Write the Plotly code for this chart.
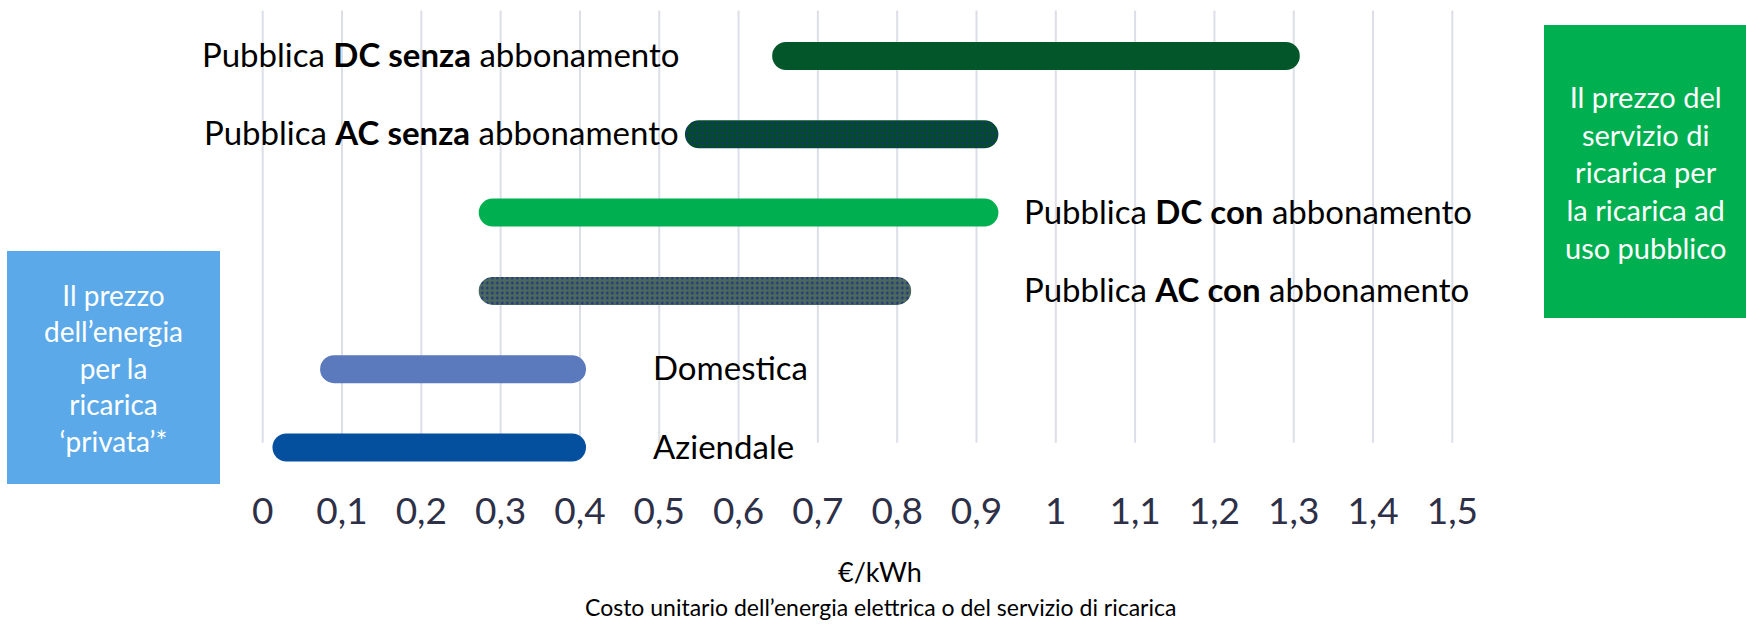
import plotly.graph_objects as go

# ---------------- data ----------------
categories = [
    "Aziendale",
    "Domestica",
    "Pubblica AC con abbonamento",
    "Pubblica DC con abbonamento",
    "Pubblica AC senza abbonamento",
    "Pubblica DC senza abbonamento",
]
label_texts = [
    "Aziendale",
    "Domestica",
    "Pubblica <b>AC con</b> abbonamento",
    "Pubblica <b>DC con</b> abbonamento",
    "Pubblica <b>AC senza</b> abbonamento",
    "Pubblica <b>DC senza</b> abbonamento",
]
price_min = [0.03, 0.09, 0.29, 0.29, 0.55, 0.66]
price_max = [0.39, 0.39, 0.80, 0.91, 0.91, 1.29]

tick_values = [0, 0.1, 0.2, 0.3, 0.4, 0.5, 0.6, 0.7, 0.8, 0.9, 1.0, 1.1, 1.2, 1.3, 1.4, 1.5]
tick_labels = ["0", "0,1", "0,2", "0,3", "0,4", "0,5", "0,6", "0,7", "0,8", "0,9",
               "1", "1,1", "1,2", "1,3", "1,4", "1,5"]

x_title = "€/kWh"
x_subtitle = "Costo unitario dell’energia elettrica o del servizio di ricarica"
box_private = "Il prezzo<br>dell’energia<br>per la<br>ricarica<br>‘privata’*"
box_public = "Il prezzo del<br>servizio di<br>ricarica per<br>la ricarica ad<br>uso pubblico"

# ---------------- styles / layout ----------------
W, H = 1746, 627
bar_colors = ["#04509F", "#5B7ABD", "#4B6A5C", "#00B050", "#014D27", "#02562A"]
patterned = [False, False, True, False, True, False]
dot_color = "#1C2A8C"
label_side = ["bottom", "bottom", "right", "right", "left", "left"]
label_anchor_x = {"left": 0.527, "right": 0.957, "bottom": 0.489}

X_RANGE = [-0.01, 1.51]
PX_PER_UNIT = 793.1
X0_PX = 262.7                      # pixel of value 0
x_left_px = X0_PX + X_RANGE[0] * PX_PER_UNIT
x_right_px = X0_PX + X_RANGE[1] * PX_PER_UNIT
grid_top_px, grid_bottom_px = 10.5, 442.7
plot_top_px, plot_bottom_px = 10.5, 466.0
row0_px, row_step_px = 447.5, 78.3
BAR_PX = 28
cap = (BAR_PX / 2) / PX_PER_UNIT

y_range = [(row0_px - plot_bottom_px) / row_step_px, (row0_px - plot_top_px) / row_step_px]

FONT = "Lato"

fig = go.Figure()

for cat, lo, hi, col, pat in zip(categories, price_min, price_max, bar_colors, patterned):
    marker = dict(color=col, cornerradius=BAR_PX // 2, line=dict(width=0))
    if pat:
        marker["pattern"] = dict(shape=".", size=5, solidity=0.18,
                                 fgcolor=dot_color, bgcolor=col, fgopacity=1)
    fig.add_trace(go.Bar(
        y=[cat], x=[(hi + cap) - (lo - cap)], base=[lo - cap], orientation="h",
        width=BAR_PX / row_step_px, marker=marker,
        cliponaxis=False, hoverinfo="skip", showlegend=False,
    ))

shapes = []
# gridlines (stop above the bottom row, as in the reference)
for tv in tick_values:
    shapes.append(dict(type="line", xref="x", yref="paper", x0=tv, x1=tv,
                       y0=1 - grid_bottom_px / H, y1=1 - grid_top_px / H,
                       line=dict(color="#DCDEE8", width=2), layer="below"))

annotations = []
for cat, txt, side in zip(categories, label_texts, label_side):
    annotations.append(dict(
        x=label_anchor_x[side], y=cat, xref="x", yref="y", text=txt,
        showarrow=False, xanchor="right" if side == "left" else "left", yanchor="middle",
        yshift=2,
        font=dict(family=FONT, size=33, color="#000000"),
    ))

annotations.append(dict(x=880 / W, y=1 - 571 / H, xref="paper", yref="paper", text=x_title,
                        showarrow=False, xanchor="center", yanchor="middle",
                        font=dict(family=FONT, size=27, color="#000000")))
annotations.append(dict(x=880 / W, y=1 - 607 / H, xref="paper", yref="paper", text=x_subtitle,
                        showarrow=False, xanchor="center", yanchor="middle",
                        font=dict(family=FONT, size=23, color="#000000")))

# boxes
box_blue = dict(x0=7, x1=220, y0=251, y1=484)
box_green = dict(x0=1544, x1=1746, y0=25, y1=318)
for b, col in ((box_blue, "#5BA9E9"), (box_green, "#00B050")):
    shapes.append(dict(type="rect", xref="paper", yref="paper",
                       x0=b["x0"] / W, x1=b["x1"] / W, y0=1 - b["y1"] / H, y1=1 - b["y0"] / H,
                       fillcolor=col, line=dict(width=0), layer="below"))
annotations.append(dict(x=(box_blue["x0"] + box_blue["x1"]) / 2 / W,
                        y=1 - (box_blue["y0"] + box_blue["y1"]) / 2 / H,
                        xref="paper", yref="paper", text=box_private, showarrow=False,
                        xanchor="center", yanchor="middle", align="center",
                        font=dict(family=FONT, size=28, color="#FFFFFF")))
annotations.append(dict(x=(box_green["x0"] + box_green["x1"]) / 2 / W,
                        y=1 - (box_green["y0"] + box_green["y1"]) / 2 / H,
                        xref="paper", yref="paper", text=box_public, showarrow=False,
                        xanchor="center", yanchor="middle", align="center",
                        font=dict(family=FONT, size=29, color="#FFFFFF")))

fig.update_layout(
    width=W, height=H,
    margin=dict(l=0, r=0, t=0, b=0),
    paper_bgcolor="#FFFFFF", plot_bgcolor="#FFFFFF",
    barmode="overlay",
    showlegend=False,
    xaxis=dict(
        domain=[x_left_px / W, x_right_px / W], range=X_RANGE,
        tickmode="array", tickvals=tick_values, ticktext=tick_labels,
        showgrid=False, zeroline=False, automargin=False,
        showline=False, ticks="", ticklabelstandoff=20,
        tickfont=dict(family=FONT, size=37, color="#2D3047"),
    ),
    yaxis=dict(
        domain=[1 - plot_bottom_px / H, 1 - plot_top_px / H],
        type="category", categoryorder="array", categoryarray=categories,
        range=y_range, showgrid=False, zeroline=False, showticklabels=False, ticks="",
        automargin=False,
    ),
    shapes=shapes,
    annotations=annotations,
)

fig.write_html("out.html", config={"displayModeBar": False},
               post_script="document.body.style.margin='0';document.body.style.overflow='hidden';")
